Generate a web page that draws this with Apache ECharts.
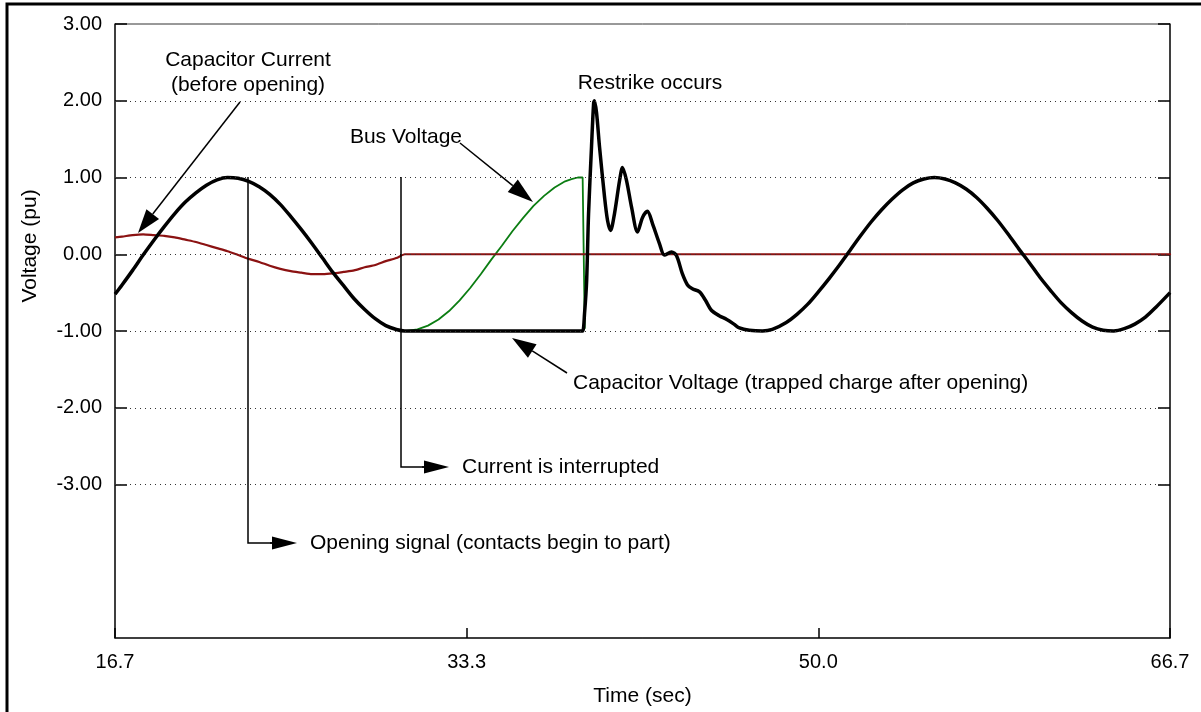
<!DOCTYPE html>
<html>
<head>
<meta charset="utf-8">
<title>Capacitor switching restrike</title>
<script src="https://cdn.jsdelivr.net/npm/echarts@6/dist/echarts.min.js"></script>
<style>
  html, body { margin: 0; padding: 0; background: #fff; }
  #chart { width: 1201px; height: 712px; }
</style>
</head>
<body>
<div id="chart"></div>
<script>
// Time axis ticks (ms shown as "sec" on the label) and voltage ticks
const xTickValues = [50 / 3, 100 / 3, 50, 200 / 3];
const yTickValues = [-3, -2, -1, 0, 1, 2, 3];
const gridLevels = [2, 1, 0, -1, -2, -3];

// Capacitor voltage: follows the bus until interruption, holds trapped charge,
// then rings after the restrike and settles back onto the bus waveform
const capVoltage = [
  [16.67, -0.52], [17.0, -0.40], [17.5, -0.21], [18.0, -0.01], [18.5, 0.18],
  [19.0, 0.36], [19.5, 0.53], [20.0, 0.68], [20.5, 0.80], [21.0, 0.90],
  [21.5, 0.97], [22.0, 1.00], [22.5, 0.99], [23.0, 0.95], [23.5, 0.88],
  [24.0, 0.78], [24.5, 0.65], [25.0, 0.49], [25.5, 0.32], [26.0, 0.14],
  [26.5, -0.05], [27.0, -0.24], [27.5, -0.41], [28.0, -0.58], [28.5, -0.72],
  [29.0, -0.84], [29.5, -0.93], [30.0, -0.98], [30.4, -1.00],
  [34.0, -1.00], [38.7, -1.00], [38.83, -1.00],
  [38.92, -0.77], [39.02, -0.34], [39.11, 0.53], [39.25, 1.40], [39.35, 1.97],
  [39.39, 2.00], [39.49, 1.84], [39.63, 1.40], [39.87, 0.74], [40.01, 0.44],
  [40.15, 0.31], [40.34, 0.53], [40.58, 0.96], [40.72, 1.13], [40.91, 0.96],
  [41.15, 0.61], [41.43, 0.29], [41.67, 0.48], [41.90, 0.56], [42.14, 0.40],
  [42.47, 0.14], [42.71, -0.01], [43.04, 0.03], [43.28, -0.02], [43.55, -0.25],
  [43.80, -0.40], [44.03, -0.45], [44.37, -0.49], [44.65, -0.60], [44.93, -0.73],
  [45.30, -0.80], [45.66, -0.85], [46.0, -0.91], [46.26, -0.96], [46.73, -0.99],
  [47.35, -1.00], [47.82, -0.98], [48.48, -0.89], [49.0, -0.78], [49.5, -0.65],
  [50.0, -0.49], [50.5, -0.32], [51.0, -0.14], [51.5, 0.05], [52.0, 0.24],
  [52.5, 0.42], [53.0, 0.58], [53.5, 0.72], [54.0, 0.84], [54.5, 0.93],
  [55.0, 0.98], [55.5, 1.00], [56.0, 0.98], [56.5, 0.93], [57.0, 0.85],
  [57.5, 0.74], [58.0, 0.60], [58.5, 0.44], [59.0, 0.26], [59.5, 0.07],
  [60.0, -0.11], [60.5, -0.30], [61.0, -0.47], [61.5, -0.63], [62.0, -0.76],
  [62.5, -0.87], [63.0, -0.95], [63.5, -0.99], [64.0, -1.00], [64.5, -0.97],
  [65.0, -0.91], [65.5, -0.82], [66.0, -0.69], [66.67, -0.50]
];

// Bus voltage after the current is interrupted, collapsing at the restrike
const busVoltage = [
  [30.5, -1.00], [31.0, -0.98], [31.5, -0.93], [32.0, -0.85], [32.5, -0.74],
  [33.0, -0.60], [33.5, -0.44], [34.0, -0.26], [34.5, -0.07], [35.0, 0.11],
  [35.5, 0.30], [36.0, 0.47], [36.5, 0.63], [37.0, 0.76], [37.5, 0.87],
  [38.0, 0.95], [38.3, 0.98], [38.6, 1.00], [38.83, 1.00], [38.93, -0.97]
];

// Capacitor current before opening, zero once interrupted
const capCurrent = [
  [16.67, 0.22], [17.0, 0.23], [17.5, 0.25], [18.0, 0.26], [18.5, 0.25],
  [19.0, 0.24], [19.5, 0.22], [20.0, 0.19], [20.5, 0.16], [21.0, 0.12],
  [21.5, 0.08], [22.0, 0.04], [22.5, -0.01], [23.0, -0.06], [23.5, -0.10],
  [24.0, -0.15], [24.5, -0.19], [25.0, -0.22], [25.5, -0.24], [26.0, -0.26],
  [26.5, -0.26], [27.0, -0.25], [27.5, -0.23], [28.0, -0.21], [28.5, -0.17],
  [29.0, -0.14], [29.5, -0.09], [30.0, -0.05], [30.4, 0.00], [66.67, 0.00]
];

const FONT = '"Liberation Sans", Arial, sans-serif';
const FS_TICK = 20;
const FS_NOTE = 21;

// Straight annotation arrow: shaft plus a filled triangular head
function arrow(x1, y1, x2, y2, len, half) {
  const dx = x1 - x2, dy = y1 - y2;
  const d = Math.hypot(dx, dy);
  const ux = dx / d, uy = dy / d;
  const bx = x2 + ux * len, by = y2 + uy * len;
  const px = -uy, py = ux;
  return [
    { type: 'polyline', shape: { points: [[x1, y1], [bx, by]] },
      style: { stroke: '#000', lineWidth: 1.5, fill: null }, z: 100 },
    { type: 'polygon', shape: { points: [[x2, y2], [bx + px * half, by + py * half], [bx - px * half, by - py * half]] },
      style: { fill: '#000' }, z: 100 }
  ];
}

function label(text, x, y, align) {
  return { type: 'text', z: 100, style: {
    text: text, x: x, y: y, font: FS_NOTE + 'px ' + FONT, fill: '#000',
    textAlign: align || 'left', textVerticalAlign: 'middle' } };
}

const graphics = [].concat(
  // outer frame
  [{ type: 'rect', shape: { x: 7, y: 4, width: 1300, height: 800 },
     style: { fill: null, stroke: '#000', lineWidth: 3 }, z: 100 }],
  [label('Capacitor Current', 248, 60, 'center'), label('(before opening)', 248, 85, 'center')],
  arrow(240, 102, 138, 233, 24, 8),
  [label('Restrike occurs', 650, 83, 'center')],
  [label('Bus Voltage', 462, 137, 'right')],
  arrow(460, 143, 533, 202, 26, 8),
  [label('Capacitor Voltage (trapped charge after opening)', 573, 383)],
  arrow(567, 373, 512, 338, 24, 8),
  [{ type: 'polyline', shape: { points: [[248, 177], [248, 543], [272, 543]] },
     style: { stroke: '#000', lineWidth: 1.5, fill: null }, z: 100 }],
  arrow(270, 543, 297, 543, 25, 6.5),
  [label('Opening signal (contacts begin to part)', 310, 543)],
  [{ type: 'polyline', shape: { points: [[401, 177], [401, 467], [424, 467]] },
     style: { stroke: '#000', lineWidth: 1.5, fill: null }, z: 100 }],
  arrow(422, 467, 449, 467, 25, 6.5),
  [label('Current is interrupted', 462, 467)],
  [{ type: 'text', z: 100, x: 30, y: 246, rotation: Math.PI / 2, style: {
      text: 'Voltage (pu)', x: 0, y: 0, font: FS_NOTE + 'px ' + FONT, fill: '#000',
      textAlign: 'center', textVerticalAlign: 'middle' } }]
);

const chart = echarts.init(document.getElementById('chart'), null, { renderer: 'canvas' });

chart.setOption({
  animation: false,
  backgroundColor: '#fff',
  grid: { left: 115, right: 31, top: 24, bottom: 74, containLabel: false, outerBoundsMode: 'none',
          show: true, borderColor: '#333', borderWidth: 1, backgroundColor: 'transparent' },
  xAxis: {
    type: 'value', min: 50 / 3, max: 200 / 3, interval: 50 / 3,
    name: 'Time (sec)', nameLocation: 'middle', nameGap: 48,
    nameTextStyle: { fontFamily: FONT, fontSize: FS_NOTE, color: '#000' },
    axisLine: { show: true, onZero: false, lineStyle: { color: '#222', width: 1.5 } },
    axisTick: { show: true, inside: true, length: 10, customValues: xTickValues,
                lineStyle: { color: '#000', width: 1.5 } },
    axisLabel: { customValues: xTickValues, formatter: v => v.toFixed(1), margin: 14,
                 fontFamily: FONT, fontSize: FS_TICK, color: '#000' },
    splitLine: { show: false }
  },
  yAxis: [{
    type: 'value', min: -5, max: 3, interval: 1, position: 'left',
    axisLine: { show: true, onZero: false, lineStyle: { color: '#222', width: 1.5 } },
    axisTick: { show: true, inside: true, length: 12, customValues: yTickValues,
                lineStyle: { color: '#000', width: 1.5 } },
    axisLabel: { customValues: yTickValues, formatter: v => v.toFixed(2), margin: 13,
                 fontFamily: FONT, fontSize: FS_TICK, color: '#000' },
    splitLine: { show: false }
  }, {
    type: 'value', min: -5, max: 3, interval: 1, position: 'right',
    axisLine: { show: true, onZero: false, lineStyle: { color: '#222', width: 1.5 } },
    axisTick: { show: true, inside: true, length: 12, customValues: yTickValues,
                lineStyle: { color: '#000', width: 1.5 } },
    axisLabel: { show: false },
    splitLine: { show: false }
  }],
  series: [
    {
      name: 'Bus Voltage', type: 'line', data: busVoltage, showSymbol: false, smooth: false,
      lineStyle: { color: '#0b7d12', width: 1.8 }, z: 2,
      markLine: {
        silent: true, symbol: ['none', 'none'], label: { show: false },
        lineStyle: { color: '#333', width: 1, type: [1, 4] },
        data: gridLevels.map(v => ({ yAxis: v }))
      }
    },
    {
      name: 'Capacitor Current', type: 'line', data: capCurrent, showSymbol: false, smooth: 0.2,
      lineStyle: { color: '#8b1212', width: 2.2 }, z: 3
    },
    {
      name: 'Capacitor Voltage', type: 'line', data: capVoltage, showSymbol: false, smooth: 0.3,
      lineStyle: { color: '#000', width: 3.5 }, z: 4
    }
  ],
  graphic: graphics
});
</script>
</body>
</html>
